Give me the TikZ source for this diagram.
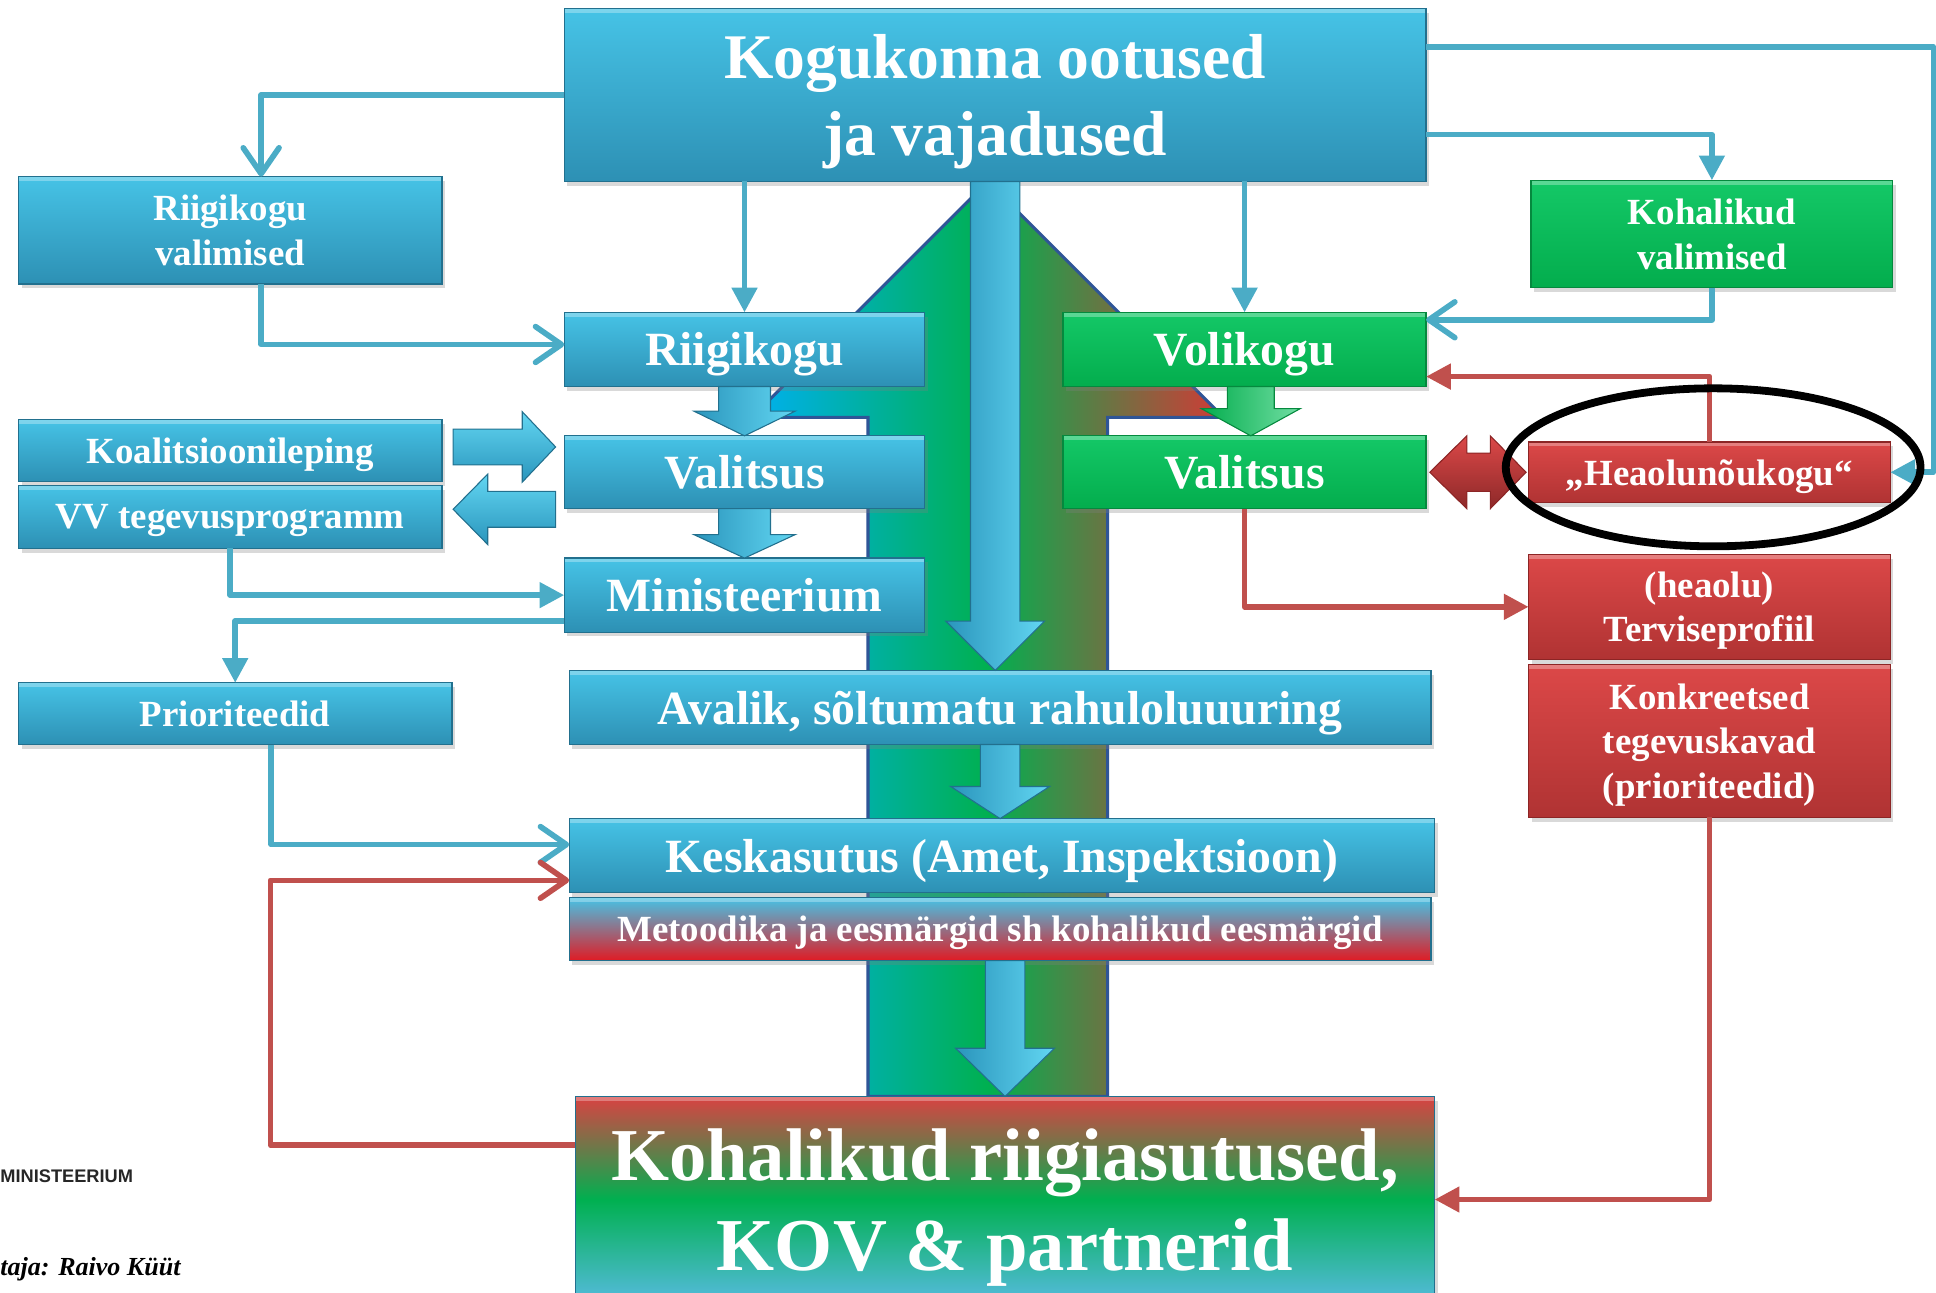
\documentclass[tikz,border=0pt]{standalone}
\usepackage{fontspec}
\setmainfont{Liberation Serif}
\setsansfont{Liberation Sans}
\usetikzlibrary{calc}
\usetikzlibrary{shadows}
\usetikzlibrary{arrows.meta}

\definecolor{sinineyl}{HTML}{46C3E6}
\definecolor{sinisealt}{HTML}{2D90B4}
\definecolor{sinineserv}{HTML}{22708E}
\definecolor{roheyl}{HTML}{14C867}
\definecolor{rohealt}{HTML}{03AD4D}
\definecolor{roheserv}{HTML}{05893E}
\definecolor{punayl}{HTML}{DC4848}
\definecolor{punaalt}{HTML}{B03333}
\definecolor{punaserv}{HTML}{8C2525}
\definecolor{liinsinine}{HTML}{4BACC6}
\definecolor{liinpunane}{HTML}{C0504D}
\definecolor{taustsinine}{HTML}{00B0F0}
\definecolor{taustroheline}{HTML}{00B050}
\definecolor{taustpunane}{HTML}{D23A36}
\definecolor{taustserv}{HTML}{2F5597}
\definecolor{metpuna}{HTML}{E01B24}
\definecolor{kovpuna}{HTML}{D94242}
\definecolor{kovsinine}{HTML}{55BBDD}
\definecolor{nooltume}{HTML}{2A95BC}
\definecolor{noolhele}{HTML}{62D6F2}

\newcommand{\kast}[7] % style, name, left, top, right, bottom (px, y down), text
{
	\node[#1, minimum width={(#5-#3)*0.02cm}, minimum height={(#6-#4)*0.02cm}] (#2) at ({(#3+#5)/2},{(#4+#6)/2}) {#7};
}
\newcommand{\allanool}[6] % style, from, to, shaft half width, head half width, head length (px)
{
	\path[#1] let \p1=(#2), \p2=(#3) in
		({\x1-#4*0.02cm}, \y1) -- ({\x1-#4*0.02cm}, {\y2+#6*0.02cm})
		-- ({\x1-#5*0.02cm}, {\y2+#6*0.02cm}) -- (\x1, \y2)
		-- ({\x1+#5*0.02cm}, {\y2+#6*0.02cm}) -- ({\x1+#4*0.02cm}, {\y2+#6*0.02cm})
		-- ({\x1+#4*0.02cm}, \y1) -- cycle;
}
\newcommand{\kulganool}[6] % style, from, to, shaft half width, head half width, head length (px, minus = left)
{
	\path[#1] let \p1=(#2), \p2=(#3) in
		(\x1, {\y1-#4*0.02cm}) -- ({\x2-(#6)*0.02cm}, {\y1-#4*0.02cm})
		-- ({\x2-(#6)*0.02cm}, {\y1-#5*0.02cm}) -- (\x2, \y1)
		-- ({\x2-(#6)*0.02cm}, {\y1+#5*0.02cm}) -- ({\x2-(#6)*0.02cm}, {\y1+#4*0.02cm})
		-- (\x1, {\y1+#4*0.02cm}) -- cycle;
}

\tikzset{
	kast/.style={inner sep=0pt, outer sep=0pt, align=center, text=white, line width=0.6pt, text depth=0pt,
		font=\bfseries\fontsize{17}{20.5}\selectfont,
		drop shadow={shadow xshift=0.05cm, shadow yshift=-0.07cm, opacity=0.3},
		path picture={\fill[white, opacity=0.3] (path picture bounding box.north west) rectangle ([yshift=-0.07cm]path picture bounding box.north east);}},
	sinikast/.style={kast, top color=sinineyl, bottom color=sinisealt, draw=sinineserv},
	rohekast/.style={kast, top color=roheyl, bottom color=rohealt, draw=roheserv},
	punakast/.style={kast, top color=punayl, bottom color=punaalt, draw=punaserv},
	metkast/.style={kast, top color=sinineyl, bottom color=metpuna, draw=sinineserv},
	kovkast/.style={kast, top color=kovpuna, bottom color=kovsinine, middle color=taustroheline, draw=sinineserv,
		font=\bfseries\fontsize{34.4}{41.5}\selectfont},
	keskmine/.style={font=\bfseries\fontsize{22}{26}\selectfont},
	sinine liin/.style={draw=liinsinine, line width=2.6pt, line join=round},
	punane liin/.style={draw=liinpunane, line width=2.6pt, line join=round},
	lahtine/.style={-{Straight Barb[length=0.42cm, width=0.58cm, round]}},
	kinnine/.style={-{Triangle[length=0.4cm, width=0.4cm]}},
	sininool/.style={draw=sinineserv, line width=0.5pt, left color=nooltume, right color=noolhele},
	rohenool/.style={draw=roheserv, line width=0.5pt, left color=rohealt, right color=roheyl!60!white},
	horisnool/.style={draw=sinineserv, line width=0.5pt, top color=noolhele, bottom color=nooltume},
	punanool/.style={draw=punaserv, line width=0.5pt, top color=punayl, bottom color=punaalt!80!black},
	taust/.style={draw=taustserv, line width=1.4pt, left color=taustsinine, right color=taustpunane, middle color=taustroheline}
}

\begin{document}
\begin{tikzpicture}[x=0.02cm, y=-0.02cm]
	% page 1568 x 1047 px, y down
	\useasboundingbox (0,0) rectangle (1568,1047);
	\clip (0,0) rectangle (1568,1047);
	
	% big up arrow behind
	\draw[taust] (703,888) -- (703,338) -- (609,338) -- (800,147) -- (991,338) -- (897,338) -- (897,888) -- cycle;
	
	% boxes
	\kast{sinikast, font=\bfseries\fontsize{29.3}{35.3}\selectfont}{top}{457}{7}{1155}{147}{Kogukonna ootused\\ja vajadused}
	\kast{sinikast}{rkval}{15}{143}{358}{230}{Riigikogu\\valimised}
	\kast{rohekast}{kovval}{1240}{146}{1533}{233}{Kohalikud\\valimised}
	\kast{sinikast, keskmine}{rk}{457}{253}{749}{313}{Riigikogu}
	\kast{rohekast, keskmine}{vk}{861}{253}{1155}{313}{Volikogu}
	\kast{sinikast, keskmine}{valb}{457}{353}{749}{412}{Valitsus}
	\kast{rohekast, keskmine}{valg}{861}{353}{1155}{412}{Valitsus}
	\kast{sinikast, keskmine}{min}{457}{452}{749}{512}{Ministeerium}
	\kast{sinikast}{koal}{15}{340}{358}{390}{Koalitsioonileping}
	\kast{sinikast}{vv}{15}{393}{358}{444}{VV tegevusprogramm}
	\kast{sinikast}{prio}{15}{553}{366}{603}{Prioriteedid}
	\kast{sinikast, keskmine}{aval}{461}{543}{1159}{603}{Avalik, sõltumatu rahuloluuuring}
	\kast{sinikast, keskmine}{kesk}{461}{663}{1162}{723}{Keskasutus (Amet, Inspektsioon)}
	\kast{metkast}{met}{461}{727}{1159}{778}{Metoodika ja eesmärgid sh kohalikud eesmärgid}
	\kast{kovkast}{kov}{466}{888}{1162}{1055}{Kohalikud riigiasutused,\\KOV \& partnerid}
	\kast{punakast}{heao}{1238}{358}{1531}{407}{„Heaolunõukogu“}
	\kast{punakast}{tervis}{1238}{449}{1531}{534}{(heaolu)\\Terviseprofiil}
	\kast{punakast}{konkr}{1238}{538}{1531}{662}{Konkreetsed\\tegevuskavad\\(prioriteedid)}
	
	% block arrows
	\allanool{sininool}{top.south}{aval.north}{20}{40}{40};
	\allanool{sininool}{rk.south}{valb.north}{21}{41}{20};
	\allanool{sininool}{valb.south}{min.north}{21}{41}{19};
	\allanool{rohenool}{$(vk.south)+(5,0)$}{valg.north}{19}{40}{22};
	\allanool{sininool}{aval.south}{kesk.north}{16}{40}{26};
	\allanool{sininool}{$(met.south)+(4,0)$}{kov.north}{16}{40}{39};
	\kulganool{horisnool}{$(koal.east)+(9,-3)$}{$(valb.west)+(-7,0)$}{14.5}{28.5}{27};
	\kulganool{horisnool}{$(valb.west)+(-7,30)$}{$(vv.east)+(9,0)$}{14.5}{28.5}{-28};
	\path[punanool] let \p1=($(valg.east)+(3,0)$), \p2=($(heao.west)+(-2,0)$) in
		(\p1) -- ++(0.6cm,0.59cm) -- ++(0,-0.28cm) -- ({\x2-0.58cm}, {\y1+0.31cm}) -- ++(0,0.28cm)
		-- (\p2) -- ++(-0.58cm,-0.59cm) -- ++(0,0.28cm) -- ({\x1+0.6cm}, {\y1-0.31cm}) -- ++(0,-0.28cm) -- cycle;
	
	% blue lines
	\draw[sinine liin, lahtine] (top.west) -| ($(rkval.north)+(25,0)$);
	\draw[sinine liin, lahtine] ($(rkval.south)+(25,0)$) |- ($(rk.west)+(0,-4)$);
	\draw[sinine liin, kinnine] (rk.north |- top.south) -- (rk.north);
	\draw[sinine liin, kinnine] (vk.north |- top.south) -- (vk.north);
	\draw[sinine liin, kinnine] ($(top.east)+(0,32)$) -| (kovval.north);
	\draw[sinine liin, lahtine] (kovval.south) |- ($(vk.east)+(0,-24)$);
	\draw[sinine liin, kinnine] ($(top.east)+(0,-39)$) -| ($(heao.east)+(35,0)$) -- (heao.east);
	\draw[sinine liin, kinnine] (vv.south) |- (min.west);
	\draw[sinine liin, kinnine] ($(min.west)+(0,21)$) -| (prio.north);
	\draw[sinine liin, lahtine] ($(prio.south)+(29,0)$) |- ($(kesk.west)+(0,-9)$);
	
	% red lines
	\draw[punane liin, lahtine] ($(kov.west)+(0,-44)$) -| ($(kesk.west)+(-242,20)$) -- ($(kesk.west)+(0,20)$);
	\draw[punane liin, kinnine] (valg.south) |- (tervis.west);
	\draw[punane liin, kinnine] (heao.north) |- ($(vk.east)+(0,22)$);
	\draw[punane liin, kinnine] (konkr.south) |- (kov.east);
	
	% ring
	\draw[line width=3.6pt] ($(heao.center)+(3,-4)$) ellipse [x radius=3.36cm, y radius=1.28cm];
	
	% corner texts
	\node[anchor=base west, inner sep=0pt, text=black!85, font=\sffamily\bfseries\fontsize{8.4}{10}\selectfont] (logo) at (0,958) {MINISTEERIUM};
	\node[anchor=base west, inner sep=0pt, font=\bfseries\itshape\fontsize{12}{14}\selectfont] (autor) at (0,1033) {taja: Raivo Küüt};
\end{tikzpicture}
\end{document}
